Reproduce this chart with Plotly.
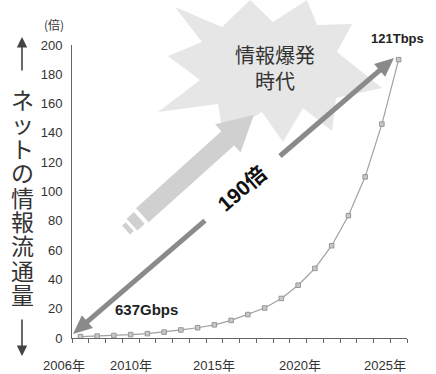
import math
import plotly.graph_objects as go

# ---------------- data ----------------
years = list(range(2006, 2026))
ratio = [1.0, 1.3, 1.7, 2.3, 3.0, 4.0, 5.5, 7.0, 9.0, 12.0,
         16.0, 20.5, 27.0, 36.0, 47.5, 63.0, 83.5, 110.0, 146.0, 190.0]
x_label_text = ["2006年", "2010年", "2015年", "2020年", "2025年"]
x_label_pos = [2005.0, 2009.0, 2014.0, 2019.1, 2024.2]
y_ticks = list(range(0, 201, 20))
side_label = "ネットの情報流通量"
start_label = "637Gbps"
end_label = "121Tbps"
mult_label = "190倍"
unit_label = "(倍)"
burst_label = "情報爆発<br>時代"

W, H = 436, 374
L, R, T, B = 72, 29, 45, 36
PW, PH = W - L - R, H - T - B
X0, X1 = 2005.5, 2025.5

def px(x):
    return (x - L) / PW

def py(y):
    return (H - B - y) / PH

def yr(v):
    return (v - X0) / (X1 - X0)

def path_from(points):
    s = "M " + " L ".join(f"{px(a):.5f},{py(b):.5f}" for a, b in points) + " Z"
    return s

NUM_FONT = "Liberation Sans, Noto Sans CJK JP, sans-serif"
JP_FONT = "Noto Sans CJK JP, sans-serif"

fig = go.Figure()
fig.add_trace(go.Scatter(
    x=years, y=ratio, mode="lines+markers",
    line=dict(color="#a0a0a0", width=1.2),
    marker=dict(symbol="square", size=4.5, color="#c8c8c8",
                line=dict(color="#969696", width=1)),
    hoverinfo="skip", showlegend=False,
))

shapes = []
# starburst
burst = [(175, 7), (222, 27), (250, 0), (273, 22), (307, 0), (317, 25),
         (352, 24), (337, 52), (382, 88), (336, 98), (332, 131), (303, 108),
         (283, 142), (262, 112), (223, 135), (218, 104), (158, 112),
         (200, 80), (168, 56), (202, 42)]
shapes.append(dict(type="path", path=path_from(burst), xref="paper", yref="paper",
                   fillcolor="#e6e6e6", line=dict(width=0), layer="below"))

# light arrow
ang = math.radians(42)
u = (math.cos(ang), -math.sin(ang))
n = (math.sin(ang), math.cos(ang))
P0 = (126, 230)

def pt(t, w):
    return (P0[0] + t * u[0] + w * n[0], P0[1] + t * u[1] + w * n[1])

def rect(t0, t1, hw):
    return [pt(t0, -hw), pt(t1, -hw), pt(t1, hw), pt(t0, hw)]

for t0, t1, hw in [(0, 5, 6), (8, 18, 8), (22, 138, 9.5)]:
    shapes.append(dict(type="path", path=path_from(rect(t0, t1, hw)), xref="paper",
                       yref="paper", fillcolor="#d0d0d0", line=dict(width=0), layer="below"))
shapes.append(dict(type="path", path=path_from([pt(137, -19), pt(172, 0), pt(137, 19)]),
                   xref="paper", yref="paper", fillcolor="#d0d0d0", line=dict(width=0),
                   layer="below"))

# dark double arrow
A = (73, 334)
Bp = (394, 58)
dx, dy = Bp[0] - A[0], Bp[1] - A[1]
Ln = math.hypot(dx, dy)
du = (dx / Ln, dy / Ln)
dn = (-du[1], du[0])

def dpt(t, w=0):
    return (A[0] + t * du[0] + w * dn[0], A[1] + t * du[1] + w * dn[1])

AC = "#8a8a8a"
head_len, head_hw = 19, 8.5
for t0, t1 in [(head_len - 2, 174), (273, Ln - head_len + 2)]:
    p0, p1 = dpt(t0), dpt(t1)
    shapes.append(dict(type="line", xref="paper", yref="paper",
                       x0=px(p0[0]), y0=py(p0[1]), x1=px(p1[0]), y1=py(p1[1]),
                       line=dict(color=AC, width=5)))
shapes.append(dict(type="path", xref="paper", yref="paper", fillcolor=AC, line=dict(width=0),
                   path=path_from([dpt(0), dpt(head_len, head_hw), dpt(head_len, -head_hw)])))
shapes.append(dict(type="path", xref="paper", yref="paper", fillcolor=AC, line=dict(width=0),
                   path=path_from([dpt(Ln), dpt(Ln - head_len, head_hw),
                                   dpt(Ln - head_len, -head_hw)])))

ann = []

def text_ann(x, y, text, font):
    return dict(x=x, y=y, xref="paper", yref="paper", text=text, showarrow=False,
                xanchor="center", yanchor="middle", font=font)

# x labels
for txt, xv in zip(x_label_text, x_label_pos):
    ann.append(text_ann(yr(xv), py(365), txt, dict(family=NUM_FONT, size=13, color="#333")))
# unit
ann.append(text_ann(px(54), py(24), unit_label, dict(family=JP_FONT, size=12, color="#333")))
# side label
for i, ch in enumerate(side_label):
    ann.append(text_ann(px(22), py(99 + 24.4 * i), ch,
                        dict(family=JP_FONT, size=23, color="#333")))
# up / down arrows
ann.append(dict(x=px(22), y=py(37), xref="paper", yref="paper", text="", showarrow=True,
                ax=0, ay=35, arrowhead=2, arrowsize=1.3, arrowwidth=1.6, arrowcolor="#444",
                standoff=0, startstandoff=0))
ann.append(dict(x=px(22), y=py(356), xref="paper", yref="paper", text="", showarrow=True,
                ax=0, ay=-38, arrowhead=2, arrowsize=1.3, arrowwidth=1.6, arrowcolor="#444",
                standoff=0, startstandoff=0))
# value labels
ann.append(text_ann(px(146), py(309), f"<b>{start_label}</b>",
                    dict(family=NUM_FONT, size=15, color="#222")))
ann.append(text_ann(px(397), py(38), f"<b>{end_label}</b>",
                    dict(family=NUM_FONT, size=13, color="#222")))
mid = dpt(223)
a = text_ann(px(mid[0]), py(mid[1]), f"<b>{mult_label}</b>",
             dict(family=NUM_FONT, size=21, color="#111"))
a["textangle"] = -40.7
ann.append(a)
ann.append(text_ann(px(275), py(68), burst_label, dict(family=JP_FONT, size=20, color="#333")))

fig.update_layout(
    width=W, height=H, margin=dict(l=L, r=R, t=T, b=B),
    paper_bgcolor="white", plot_bgcolor="rgba(0,0,0,0)",
    shapes=shapes, annotations=ann, showlegend=False,
    xaxis=dict(range=[X0, X1], showgrid=False, zeroline=False, showline=True,
               linecolor="#666", linewidth=1, ticks="outside", ticklen=4, tickcolor="#666",
               tickvals=[y + 0.5 for y in range(2005, 2026)], showticklabels=False),
    yaxis=dict(range=[0, 200], showgrid=False, zeroline=False, showline=True,
               linecolor="#666", linewidth=1, ticks="", tickvals=y_ticks,
               ticklabelstandoff=6,
               tickfont=dict(family=NUM_FONT, size=13, color="#333")),
)
fig.write_html("out.html")
